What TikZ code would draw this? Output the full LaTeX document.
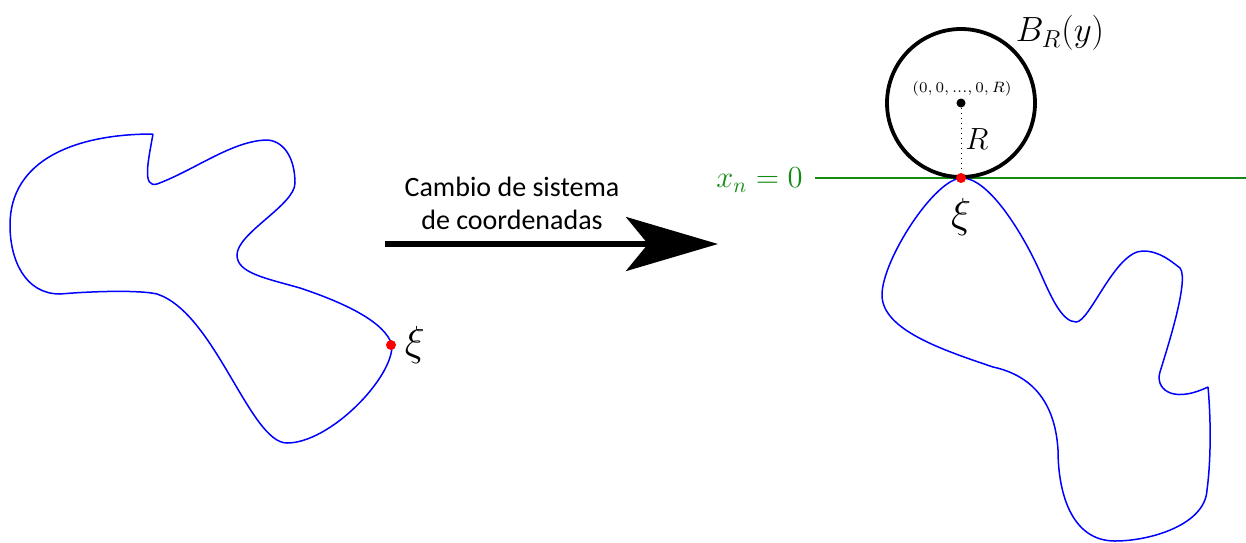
\RequirePackage{fix-cm}
\documentclass[tikz,border=0pt]{standalone}
\usepackage{fontspec}
\newfontfamily\labelfont{Carlito}
\usepackage{tikz}
\usetikzlibrary{arrows.meta,positioning,calc}
\definecolor{BlobBlue}  {HTML}{0000FF}
\definecolor{PlaneGreen}{HTML}{138A13}
\definecolor{XiRed}     {HTML}{FF0000}

\tikzset{
  blob/.style={BlobBlue,line width=0.75pt},
  ball/.style={black,line width=1.9pt},
  plane/.style={PlaneGreen,line width=1pt},
  xidot/.style={circle,fill=XiRed,inner sep=0pt,minimum size=5pt},
  ctrdot/.style={circle,fill=black,inner sep=0pt,minimum size=4.5pt},
  bigmath/.style={font=\fontsize{15.3}{18}\selectfont,inner sep=0pt},
  ximath/.style={font=\fontsize{21}{24}\selectfont,inner sep=0pt},
}

\begin{document}
\begin{tikzpicture}[x=0.5pt,y=-0.5pt]
    \useasboundingbox (0,0) rectangle (1246,542);
    % Original domain
    \draw[blob] (153,134) .. controls (148,162) and (142,188) .. (157,184)
      .. controls (195,170) and (233,140) .. (268,140)
      .. controls (286,142) and (295,161) .. (295,183)
      .. controls (295,205) and (237,233) .. (237,255)
      .. controls (237,273) and (265,278) .. (300,288)
      .. controls (345,303) and (385,322) .. (392,345)
      .. controls (393,378) and (330,443) .. (287,443)
      .. controls (250,443) and (215,313) .. (157,294)
      .. controls (140,290) and (95,291) .. (60,294)
      .. controls (25,294) and (10,260) .. (10,225)
      .. controls (10,160) and (75,134) .. (153,134);
    \node[xidot] (xia) at (391,345) {};
    \node[ximath,right=4pt of xia] (xialbl) {$\xi$};
    % Change of coordinates
    \coordinate (arrfrom) at (385,244);
    \coordinate (arrto)   at (718,244);
    \draw[line width=2.6pt,-{Stealth[length=46pt,width=27pt,inset=11pt]}] (arrfrom) -- (arrto);
    \node[font=\labelfont\fontsize{14}{16.5}\selectfont,align=center] (cambio) at (512,203)
      {Cambio de sistema\\de coordenadas};
    % Flattened boundary
    \coordinate (planefrom) at (815,178);
    \coordinate (planeto)   at (1246,178);
    \draw[plane] (planefrom) -- (planeto);
    \node[bigmath,text=PlaneGreen,anchor=east] (plane) at (803,180) {$x_n=0$};
    \draw[blob] (1208,387) .. controls (1211,420) and (1211,460) .. (1207,490)
      .. controls (1205,525) and (1150,541) .. (1115,541)
      .. controls (1070,541) and (1058,490) .. (1058,450)
      .. controls (1055,400) and (1030,375) .. (993,367)
      .. controls (943,350) and (882,330) .. (882,295)
      .. controls (882,260) and (935,178) .. (962,178)
      .. controls (990,178) and (1025,238) .. (1040,272)
      .. controls (1051,297) and (1062,322) .. (1076,322)
      .. controls (1090,322) and (1115,251) .. (1143,251)
      .. controls (1160,251) and (1172,262) .. (1180,268)
      .. controls (1190,280) and (1165,355) .. (1160,372)
      .. controls (1155,387) and (1170,405) .. (1208,387);
    % Ball touching the plane
    \node[ctrdot] (ctr) at (961,103) {};
    \draw[ball] (ctr) circle[radius=37pt];
    \node[xidot] (xib) at (961,178) {};
    \draw[dotted,line width=0.5pt] (ctr) -- (xib);
    \node[font=\fontsize{7.5}{9}\selectfont,inner sep=0pt] (ctrlbl) at (962,89) {$(0,0,...,0,R)$};
    \node[bigmath] (rlbl) at (977,139) {$R$};
    \node[font=\fontsize{17.5}{20}\selectfont,inner sep=0pt] (ballbl) at (1060,33) {$B_R(y)$};
    \node[ximath] (xiblbl) at (961,217) {$\xi$};
\end{tikzpicture}
\end{document}
